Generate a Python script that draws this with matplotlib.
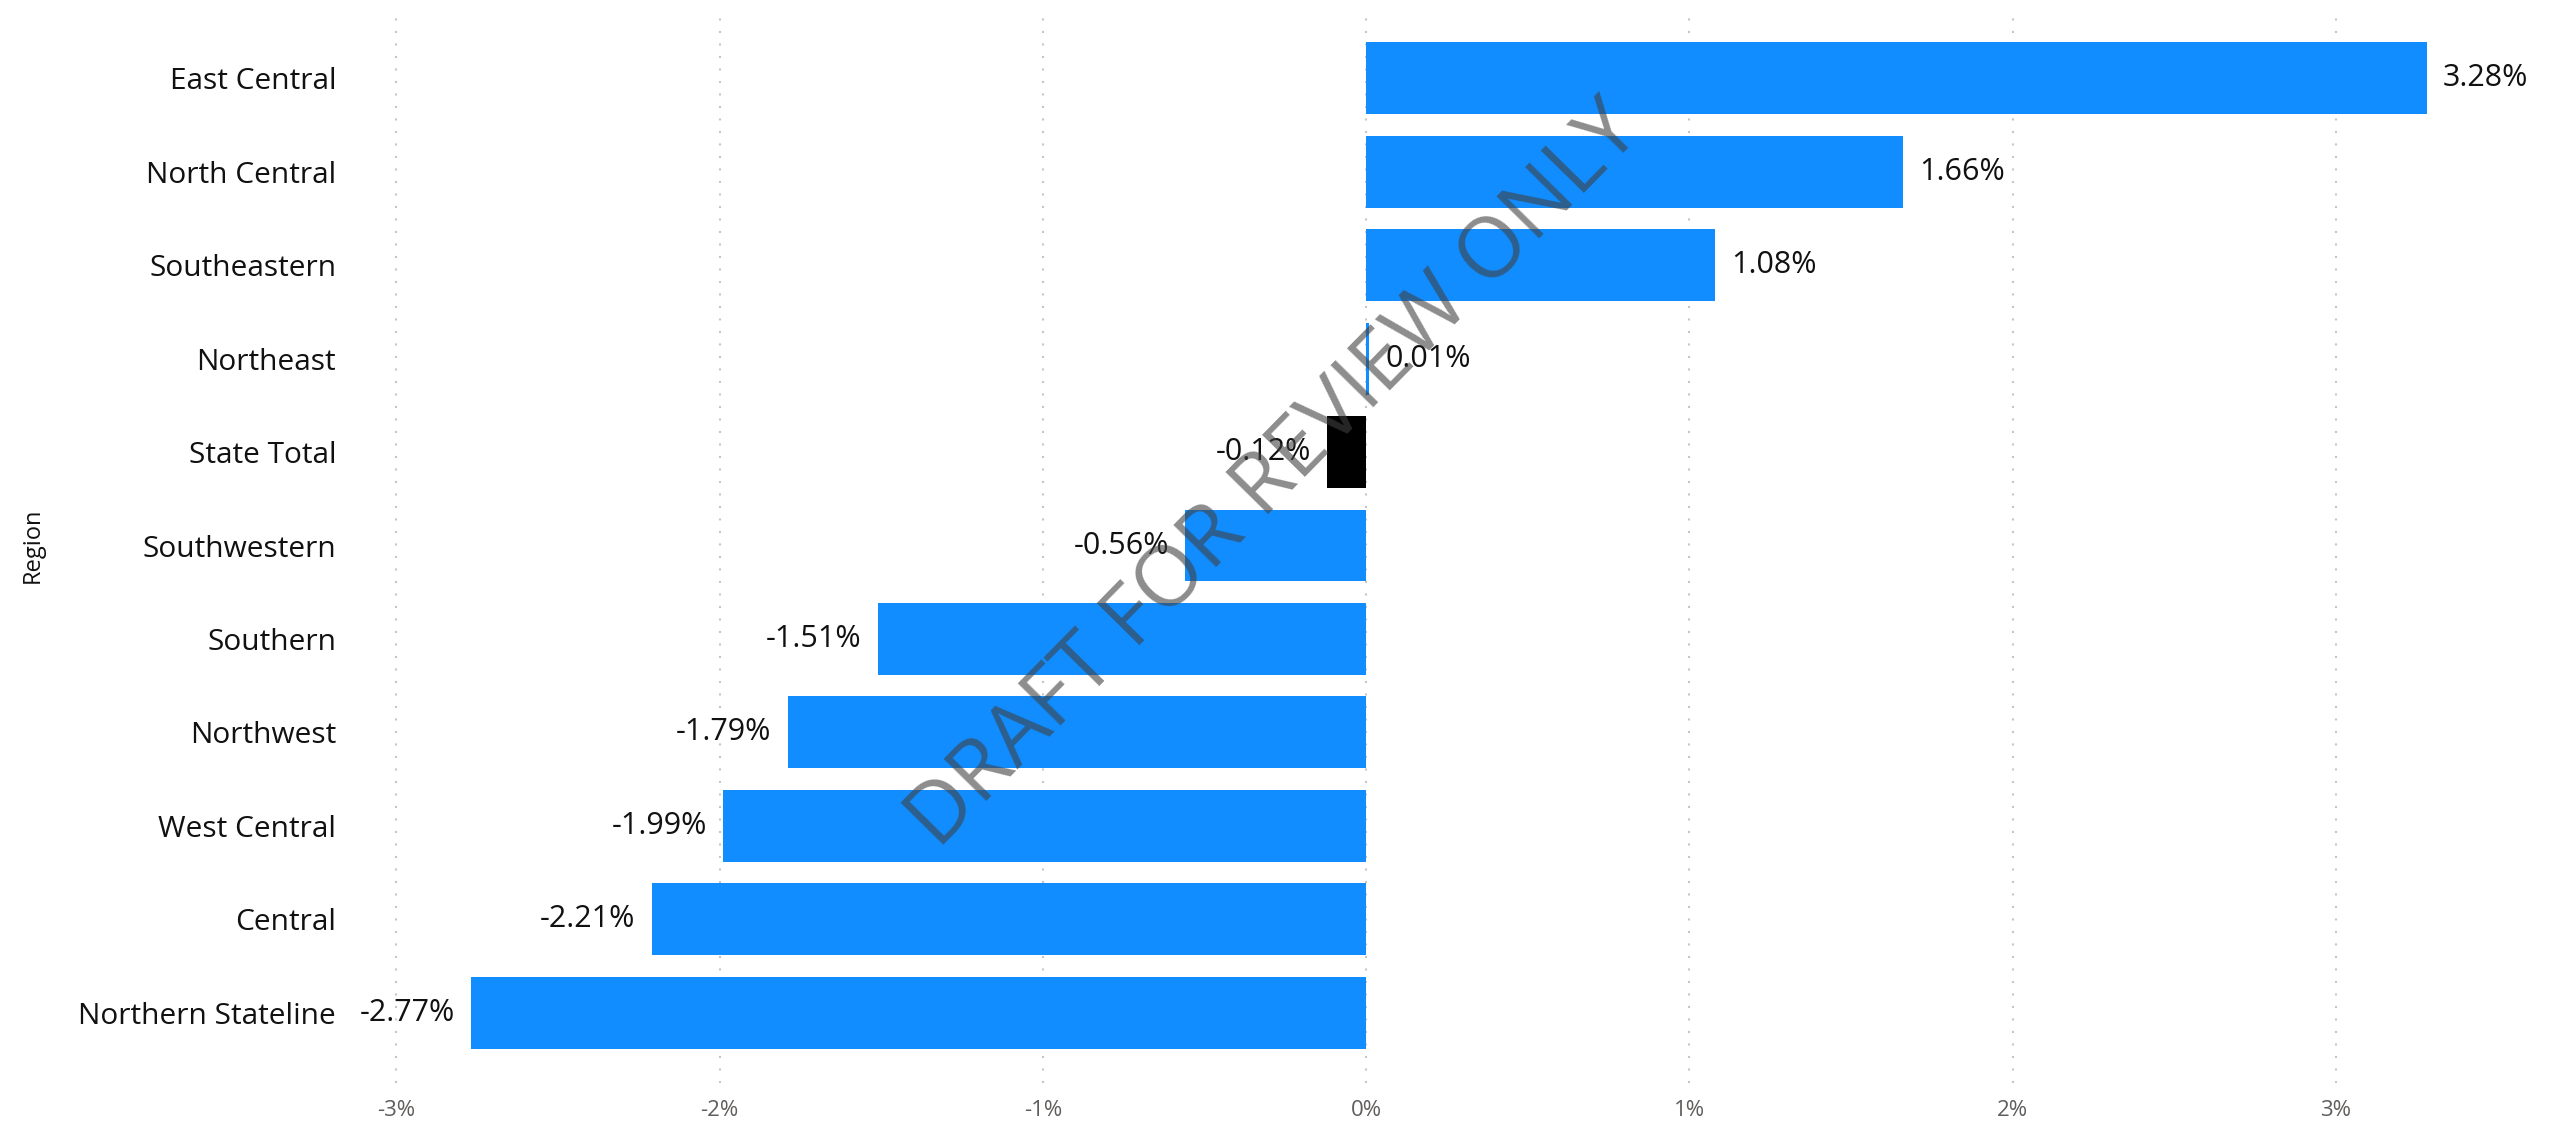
import matplotlib.pyplot as plt
import numpy as np

regions = ['East Central', 'North Central', 'Southeastern', 'Northeast', 'State Total',
           'Southwestern', 'Southern', 'Northwest', 'West Central', 'Central',
           'Northern Stateline']
change = [3.28, 1.66, 1.08, 0.01, -0.12, -0.56, -1.51, -1.79, -1.99, -2.21, -2.77]
ticks = [-3, -2, -1, 0, 1, 2, 3]

plt.rcParams['font.family'] = ['Open Sans', 'DejaVu Sans']

fig = plt.figure(figsize=(25.57, 11.24), dpi=100)
ax = fig.add_axes([364 / 2557, 1 - 1083 / 1124, (2530 - 364) / 2557, (1083 - 8) / 1124])

y = np.arange(len(regions))
colors = ['black' if r == 'State Total' else '#118DFF' for r in regions]
ax.barh(y, change, height=0.77, color=colors, zorder=2)

# value labels next to the bar ends
for yi, v in zip(y, change):
    if v >= 0:
        ax.text(v + 0.05, yi, f'{v:.2f}%', va='center', ha='left', fontsize=22, color='#111111', clip_on=False, zorder=3)
    else:
        ax.text(v - 0.05, yi, f'{v:.2f}%', va='center', ha='right', fontsize=22, color='#111111', clip_on=False, zorder=3)

ax.set_xlim(-3.1, 3.6)
ax.set_ylim(len(regions) - 0.25, -0.75)
ax.set_yticks(y)
ax.set_yticklabels(regions, fontsize=21.5, color='#111111')
ax.set_xticks(ticks)
ax.set_xticklabels([f'{t}%' for t in ticks], fontsize=16, color='#605E5C')
ax.tick_params(length=0, pad=12)
ax.tick_params(axis='y', pad=20)
ax.grid(axis='x', linestyle=(0, (1, 5)), color='#C8C6C4', linewidth=1.5, zorder=0)
for s in ax.spines.values():
    s.set_visible(False)
ax.set_ylabel('Region', fontsize=17, color='#111111', labelpad=24)

fig.text(1275 / 2557, 1 - 476 / 1124, 'DRAFT FOR REVIEW ONLY', rotation=45.5, fontsize=61,
         color='#404040', alpha=0.6, ha='center', va='center', zorder=10)

fig.savefig('out.png', dpi=100)
